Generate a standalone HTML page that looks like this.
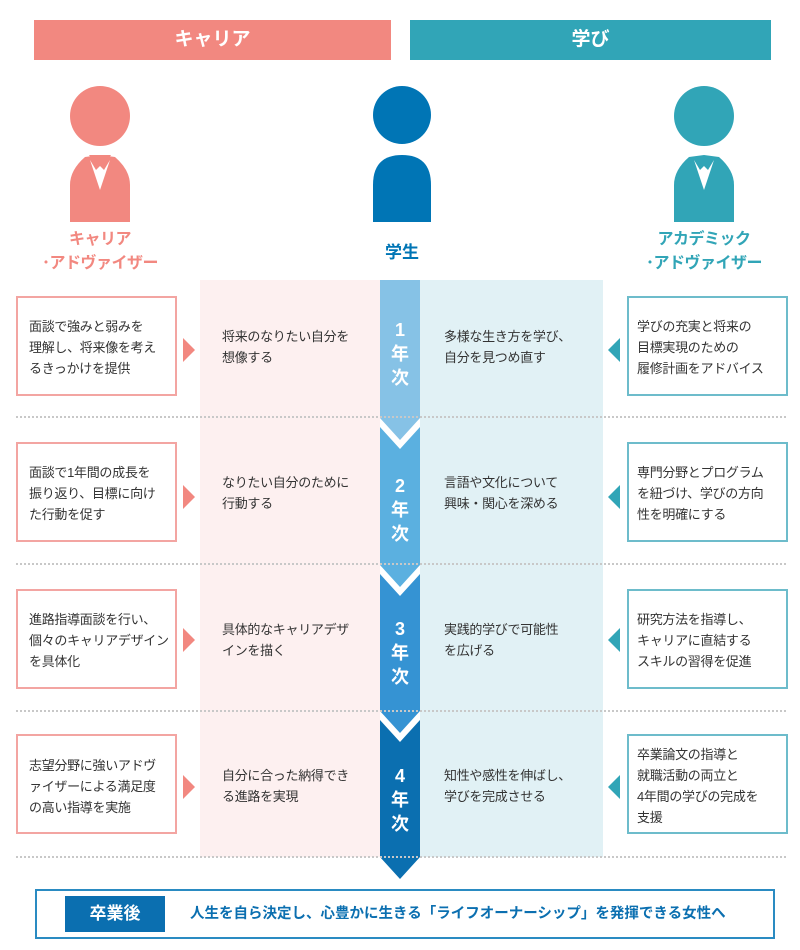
<!DOCTYPE html>
<html><head><meta charset="utf-8"><style>
body{margin:0;width:800px;height:950px;position:relative;background:#fff;font-family:"Liberation Sans","Noto Sans CJK JP",sans-serif;overflow:hidden}
.a{position:absolute}
.hb{position:absolute;top:20px;height:40px;color:#fff;font-weight:bold;font-size:19px;text-align:center;line-height:40px}
.lb{position:absolute;left:16px;width:157px;height:96px;border:2px solid #f3a5a2;background:#fff}
.rb{position:absolute;left:627px;width:157px;height:96px;border:2px solid #6dbccb;background:#fff}
.t{position:absolute;font-size:13px;line-height:21px;color:#333;white-space:nowrap;letter-spacing:-0.3px}
.dl{position:absolute;left:16px;width:770px;border-top:2px dotted #c8c8c8;height:0}
.yr{position:absolute;left:380px;width:40px;text-align:center;color:#fff;font-weight:bold;font-size:18px;line-height:24px}
.lab{position:absolute;width:200px;text-align:center;font-weight:bold;font-size:16px;line-height:24px;white-space:nowrap;letter-spacing:-0.5px}
</style></head><body>
<div class="hb" style="left:34px;width:357px;background:#f28880">キャリア</div>
<div class="hb" style="left:410px;width:361px;background:#31a5b7">学び</div>

<svg class="a" style="left:0;top:0" width="800" height="950">
<rect x="200" y="280" width="180" height="577" fill="#fdf0f0"/>
<rect x="420" y="280" width="183" height="577" fill="#e1f1f5"/>
<ellipse cx="100" cy="116" rx="30" ry="30" fill="#f28880"/>
<path d="M70 222 V185 Q70 170 85 157 L100 155 L115 157 Q130 170 130 185 V222Z" fill="#f28880"/>
<path d="M89 155 L111 155 L107 161 L100 170 L93 161Z" fill="#f28880"/>
<path d="M90 160 L100 190 L110 160 L104 170 L100 166 L96 170Z" fill="#fff"/>
<ellipse cx="402" cy="115" rx="29" ry="29" fill="#0075b5"/>
<path d="M373 222 V185 Q373 155 402 155 Q431 155 431 185 V222Z" fill="#0075b5"/>
<ellipse cx="704" cy="116" rx="30" ry="30" fill="#31a5b7"/>
<path d="M674 222 V185 Q674 170 689 157 L704 155 L719 157 Q734 170 734 185 V222Z" fill="#31a5b7"/>
<path d="M694 160 L704 190 L714 160 L708 170 L704 166 L700 170Z" fill="#fff"/>
<polygon points="380,280 420,280 420,418 400,440 380,418" fill="#86c2e6"/>
<polygon points="380,427 400,449 420,427 420,565 400,587 380,565" fill="#5bb0e0"/>
<polygon points="380,574 400,596 420,574 420,711 400,733 380,711" fill="#3593d3"/>
<polygon points="380,720 400,742 420,720 420,857 400,879 380,857" fill="#0b6fb0"/>
<polygon points="183,338 195,350 183,362" fill="#f28880"/>
<polygon points="183,485 195,497 183,509" fill="#f28880"/>
<polygon points="183,628 195,640 183,652" fill="#f28880"/>
<polygon points="183,775 195,787 183,799" fill="#f28880"/>
<polygon points="620,338 608,350 620,362" fill="#31a5b7"/>
<polygon points="620,485 608,497 620,509" fill="#31a5b7"/>
<polygon points="620,628 608,640 620,652" fill="#31a5b7"/>
<polygon points="620,775 608,787 620,799" fill="#31a5b7"/>
</svg>

<div class="lab" style="left:0;top:228px;color:#f28880">キャリア<br>･アドヴァイザー</div>
<div class="a" style="left:372px;width:60px;top:238px;text-align:center;color:#0075b5;font-weight:bold;font-size:17px">学生</div>
<div class="lab" style="left:604px;top:228px;color:#31a5b7">アカデミック<br>･アドヴァイザー</div>

<div class="dl" style="top:416px"></div>
<div class="dl" style="top:563px"></div>
<div class="dl" style="top:710px"></div>
<div class="dl" style="top:856px"></div>

<div class="yr" style="top:318px">1<br>年<br>次</div>
<div class="yr" style="top:474px">2<br>年<br>次</div>
<div class="yr" style="top:617px">3<br>年<br>次</div>
<div class="yr" style="top:764px">4<br>年<br>次</div>

<div class="lb" style="top:296px"></div>
<div class="lb" style="top:442px"></div>
<div class="lb" style="top:589px"></div>
<div class="lb" style="top:734px"></div>
<div class="rb" style="top:296px"></div>
<div class="rb" style="top:442px"></div>
<div class="rb" style="top:589px"></div>
<div class="rb" style="top:734px"></div>

<div class="t" style="left:29px;top:316px">面談で強みと弱みを<br>理解し、将来像を考え<br>るきっかけを提供</div>
<div class="t" style="left:222px;top:326px">将来のなりたい自分を<br>想像する</div>
<div class="t" style="left:444px;top:326px">多様な生き方を学び、<br>自分を見つめ直す</div>
<div class="t" style="left:637px;top:316px">学びの充実と将来の<br>目標実現のための<br>履修計画をアドバイス</div>

<div class="t" style="left:29px;top:462px">面談で1年間の成長を<br>振り返り、目標に向け<br>た行動を促す</div>
<div class="t" style="left:222px;top:472px">なりたい自分のために<br>行動する</div>
<div class="t" style="left:444px;top:472px">言語や文化について<br>興味・関心を深める</div>
<div class="t" style="left:637px;top:462px">専門分野とプログラム<br>を紐づけ、学びの方向<br>性を明確にする</div>

<div class="t" style="left:29px;top:609px">進路指導面談を行い、<br>個々のキャリアデザイン<br>を具体化</div>
<div class="t" style="left:222px;top:619px">具体的なキャリアデザ<br>インを描く</div>
<div class="t" style="left:444px;top:619px">実践的学びで可能性<br>を広げる</div>
<div class="t" style="left:637px;top:609px">研究方法を指導し、<br>キャリアに直結する<br>スキルの習得を促進</div>

<div class="t" style="left:29px;top:755px">志望分野に強いアドヴ<br>ァイザーによる満足度<br>の高い指導を実施</div>
<div class="t" style="left:222px;top:765px">自分に合った納得でき<br>る進路を実現</div>
<div class="t" style="left:444px;top:765px">知性や感性を伸ばし、<br>学びを完成させる</div>
<div class="t" style="left:637px;top:744px">卒業論文の指導と<br>就職活動の両立と<br>4年間の学びの完成を<br>支援</div>

<div class="a" style="left:35px;top:889px;width:736px;height:46px;border:2px solid #2a8bc2"></div>
<div class="a" style="left:65px;top:896px;width:100px;height:36px;background:#0b6fb0;color:#fff;font-weight:bold;font-size:17px;line-height:36px;text-align:center">卒業後</div>
<div class="a" style="left:190px;top:903px;color:#0b6fb0;font-weight:bold;font-size:14.5px;line-height:22px;white-space:nowrap">人生を自ら決定し、心豊かに生きる「ライフオーナーシップ」を発揮できる女性へ</div>
</body></html>
